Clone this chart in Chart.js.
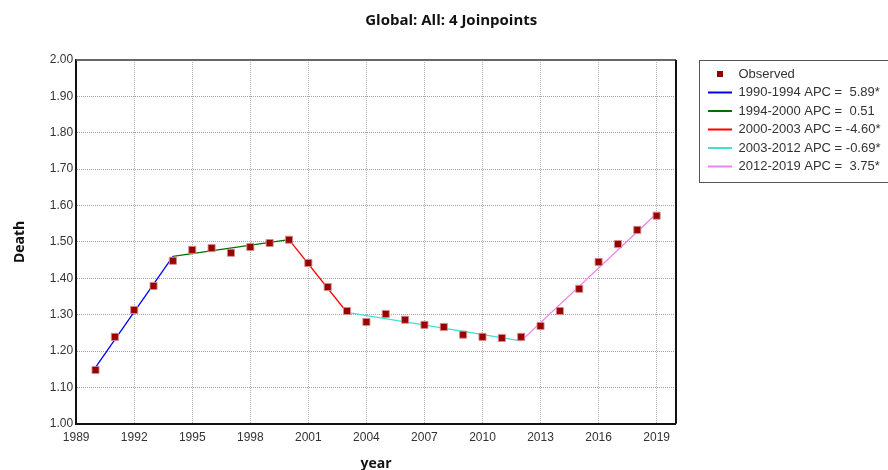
<!DOCTYPE html>
<html>
<head>
<meta charset="utf-8">
<script src="https://cdn.jsdelivr.net/npm/chart.js@4/dist/chart.umd.min.js"></script>
<style>
  body { margin: 0; background: #fff; }
  #wrap { width: 888px; height: 470px; }
</style>
</head>
<body>
<div id="wrap"><canvas id="jpChart" width="888" height="470"></canvas></div>
<script>
    // observed values
    const years = [1990, 1991, 1992, 1993, 1994, 1995, 1996, 1997, 1998, 1999, 2000,
                   2001, 2002, 2003, 2004, 2005, 2006, 2007, 2008, 2009, 2010,
                   2011, 2012, 2013, 2014, 2015, 2016, 2017, 2018, 2019];
    const observed = [1.148, 1.239, 1.313, 1.379, 1.448, 1.478, 1.483, 1.470, 1.486, 1.497, 1.506,
                      1.442, 1.376, 1.310, 1.280, 1.302, 1.286, 1.272, 1.266, 1.245, 1.239,
                      1.236, 1.239, 1.269, 1.310, 1.371, 1.445, 1.494, 1.533, 1.572];

    // joinpoint segments (fitted)
    const segLabels = ['1990-1994 APC =  5.89*', '1994-2000 APC =  0.51', '2000-2003 APC = -4.60*',
                       '2003-2012 APC = -0.69*', '2012-2019 APC =  3.75*'];
    const segYears = [[1990, 1994], [1994, 2000], [2000, 2003], [2003, 2012], [2012, 2019]];
    const segValues = [[1.155, 1.460], [1.460, 1.506], [1.506, 1.306], [1.306, 1.228], [1.228, 1.578]];
    const segColors = ['#0000ff', '#007000', '#ff0000', '#40e0d0', '#ee82ee'];

    const xTicks = [1989, 1992, 1995, 1998, 2001, 2004, 2007, 2010, 2013, 2016, 2019];

    // small marker image for the "Observed" legend item
    const obsIcon = document.createElement('canvas');
    obsIcon.width = 24; obsIcon.height = 8;
    const ic = obsIcon.getContext('2d');
    ic.fillStyle = '#8b0000';
    ic.fillRect(9, 1, 6, 6);

    const datasets = [{
        label: 'Observed',
        type: 'scatter',
        data: years.map((y, i) => ({x: y, y: observed[i]})),
        pointStyle: 'rect',
        pointRadius: 5,
        pointHoverRadius: 5,
        backgroundColor: '#990000',
        borderColor: 'rgba(210,140,140,0.9)',
        borderWidth: 1
    }];
    segLabels.forEach((lbl, i) => {
        datasets.push({
            label: lbl,
            type: 'line',
            data: segYears[i].map((y, j) => ({x: y, y: segValues[i][j]})),
            borderColor: segColors[i],
            backgroundColor: segColors[i],
            borderWidth: 1.3,
            pointRadius: 0,
            fill: false
        });
    });

    const frame = {
        id: 'frame',
        afterDraw(chart) {
            const ctx = chart.ctx, a = chart.chartArea;
            ctx.save();
            ctx.strokeStyle = '#666';
            ctx.lineWidth = 2;
            ctx.beginPath();
            ctx.moveTo(a.left, a.top);
            ctx.lineTo(a.right, a.top);
            ctx.stroke();
            ctx.strokeStyle = '#111';
            ctx.beginPath();
            ctx.moveTo(a.right, a.top);
            ctx.lineTo(a.right, a.bottom);
            ctx.stroke();
            // legend box
            ctx.strokeStyle = '#555';
            ctx.lineWidth = 1;
            ctx.strokeRect(699.5, 60.5, 200, 122);
            ctx.restore();
        }
    };

    const ctx = document.getElementById('jpChart').getContext('2d');
    new Chart(ctx, {
        type: 'scatter',
        data: { datasets: datasets },
        plugins: [frame],
        options: {
            responsive: false,
            animation: false,
            layout: { padding: { left: 12, right: -2.5, top: 4, bottom: 0 } },
            plugins: {
                title: {
                    display: true,
                    text: 'Global: All: 4 Joinpoints',
                    color: '#111',
                    font: { family: 'Open Sans', size: 15, weight: 'bold' },
                    padding: { top: 8, bottom: 30 }
                },
                legend: {
                    position: 'right',
                    align: 'start',
                    fullSize: false,
                    maxWidth: 230,
                    title: { display: true, text: '', padding: 0, font: { size: 2, lineHeight: 1 } },
                    labels: {
                        usePointStyle: true,
                        pointStyleWidth: 24,
                        boxHeight: 8,
                        color: '#333',
                        padding: 5.5,
                        font: { family: 'Liberation Sans', size: 13 },
                        generateLabels(chart) {
                            return chart.data.datasets.map((ds, i) => ({
                                text: ds.label,
                                datasetIndex: i,
                                fillStyle: ds.backgroundColor,
                                strokeStyle: ds.borderColor,
                                lineWidth: 2,
                                fontColor: '#333',
                                pointStyle: i === 0 ? obsIcon : 'line'
                            }));
                        }
                    }
                },
                tooltip: { enabled: false }
            },
            scales: {
                x: {
                    type: 'linear',
                    min: 1989,
                    max: 2020,
                    afterBuildTicks(scale) {
                        scale.ticks = xTicks.map(v => ({value: v}));
                    },
                    ticks: {
                        color: '#333',
                        font: { family: 'Liberation Sans', size: 12 },
                        padding: 7,
                        maxRotation: 0,
                        callback: v => String(v)
                    },
                    grid: { color: '#b0b0b0', drawTicks: false },
                    border: { color: '#111', width: 2, dash: [1, 1] },
                    title: {
                        display: true,
                        text: 'year',
                        color: '#111',
                        font: { family: 'Open Sans', size: 14, weight: 'bold' },
                        padding: { top: 3, bottom: -2 }
                    }
                },
                y: {
                    min: 1.0,
                    max: 2.0,
                    ticks: {
                        stepSize: 0.1,
                        color: '#333',
                        font: { family: 'Liberation Sans', size: 12 },
                        padding: 3,
                        callback: v => v.toFixed(2)
                    },
                    grid: { color: '#a0a0a0', drawTicks: false },
                    border: { color: '#111', width: 2, dash: [1, 1] },
                    title: {
                        display: true,
                        text: 'Death',
                        color: '#111',
                        font: { family: 'Open Sans', size: 14, weight: 'bold' },
                        padding: { top: 0, bottom: 18 }
                    }
                },
                gap: {
                    // empty right-hand spacer between plot and legend
                    position: 'right',
                    min: 0,
                    max: 1,
                    grid: { display: false, drawTicks: false },
                    border: { display: false },
                    ticks: { display: false },
                    afterFit(scale) { scale.width = 26.5; }
                }
            }
        }
    });
</script>
</body>
</html>
